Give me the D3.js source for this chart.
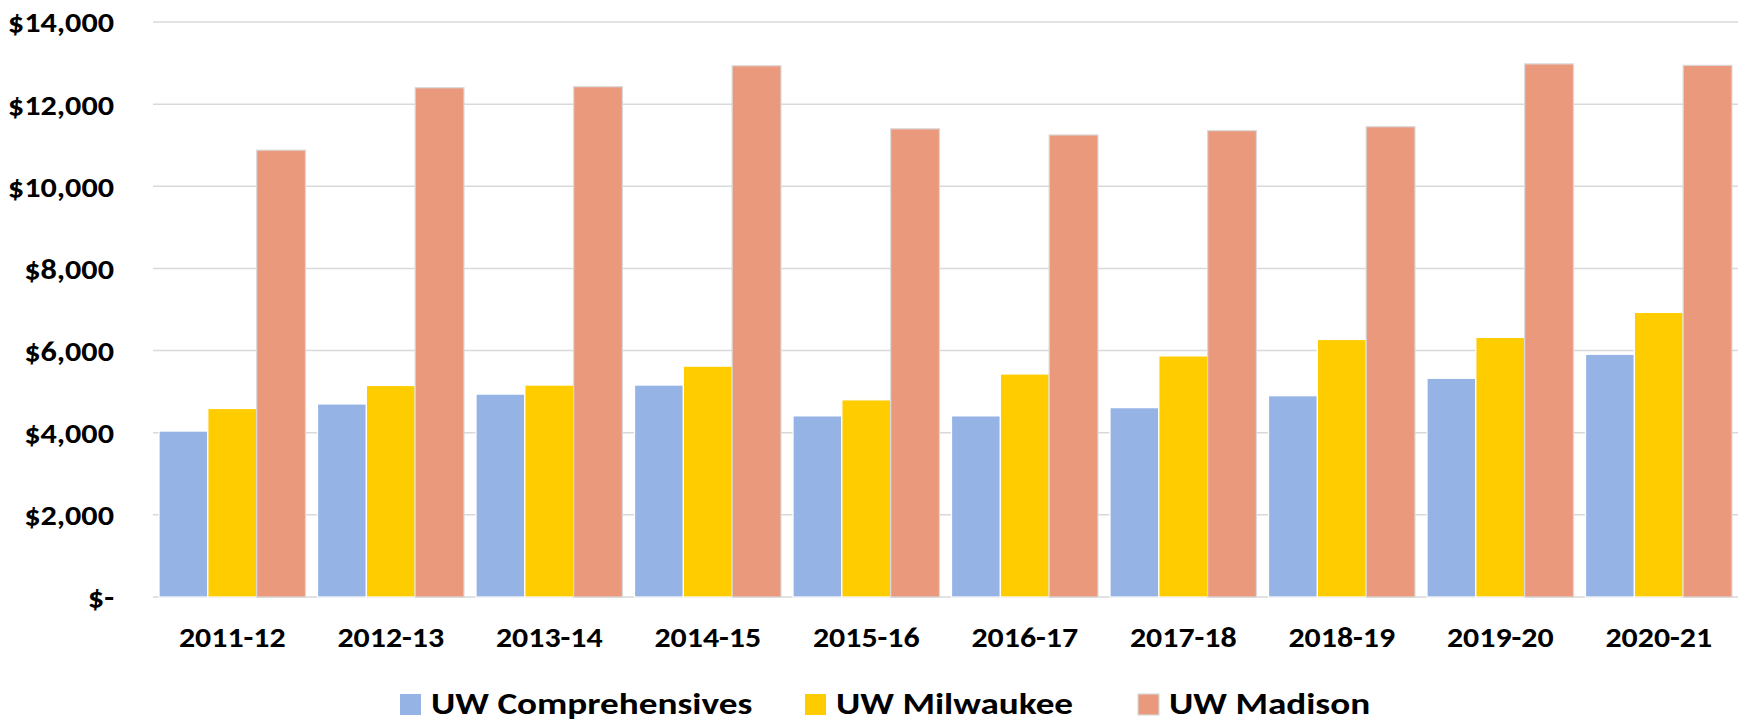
<!DOCTYPE html>
<html>
<head>
<meta charset="utf-8">
<script src="https://cdn.jsdelivr.net/npm/d3@7"></script>
<style>
  body { margin: 0; background: #fff; }
  svg text { font-family: "Carlito", "Lato", sans-serif; font-weight: 900; fill: #000; }
</style>
</head>
<body>
<script>
'use strict'

// categories + series
const years = ['2011-12', '2012-13', '2013-14', '2014-15', '2015-16',
               '2016-17', '2017-18', '2018-19', '2019-20', '2020-21']
const comprehensives = [4040, 4700, 4940, 5160, 4410, 4410, 4610, 4900, 5325, 5910]
const milwaukee      = [4590, 5150, 5160, 5620, 4800, 5430, 5870, 6270, 6320, 6930]
const madison        = [10880, 12400, 12425, 12935, 11400, 11250, 11355, 11450, 12980, 12945]
const yTicks = [0, 2000, 4000, 6000, 8000, 10000, 12000, 14000]

const series = [
    { name: 'UW Comprehensives', values: comprehensives, color: '#95b3e4', stroke: '#ffffff' },
    { name: 'UW Milwaukee', values: milwaukee, color: '#ffcc00', stroke: '#ffffff' },
    { name: 'UW Madison', values: madison, color: '#eb997c', stroke: '#d9d9d9' }
]

const width = 1744, height = 721
const plot = { left: 153, right: 1738, top: 22, bottom: 597 }

const svg = d3.select('body').append('svg')
    .attr('width', width)
    .attr('height', height)

const x = d3.scaleBand()
    .domain(years)
    .range([plot.left, plot.right])
    .paddingInner(0.076)
    .paddingOuter(0.038)

const xInner = d3.scaleBand()
    .domain(series.map(s => s.name))
    .range([0, x.bandwidth()])

const y = d3.scaleLinear()
    .domain([0, 14000])
    .range([plot.bottom, plot.top])

// gridlines (baseline is just the 0 gridline)
svg.append('g')
    .selectAll('line')
    .data(yTicks)
    .enter()
    .append('line')
    .attr('x1', plot.left)
    .attr('x2', plot.right)
    .attr('y1', d => y(d))
    .attr('y2', d => y(d))
    .attr('stroke', '#d9d9d9')
    .attr('stroke-width', 1.5)

// y labels, accounting style: zero shows as "$-"
// text is a bit wider than Lato, so stretch it sideways
svg.append('g')
    .selectAll('text')
    .data(yTicks)
    .enter()
    .append('text')
    .attr('transform', d => `translate(114,${y(d)}) scale(1.11,1)`)
    .attr('dy', '0.36em')
    .attr('text-anchor', 'end')
    .style('font-size', '29px')
    .text(d => d === 0 ? '$-' : '$' + d3.format(',')(d))

// bars
const groups = svg.append('g')
    .selectAll('g')
    .data(series)
    .enter()
    .append('g')
    .attr('fill', s => s.color)
    .attr('stroke', s => s.stroke)
    .attr('stroke-width', 1.2)

groups.selectAll('rect')
    .data(s => s.values.map((v, i) => ({ name: s.name, year: years[i], value: v })))
    .enter()
    .append('rect')
    .attr('x', d => x(d.year) + xInner(d.name))
    .attr('width', xInner.bandwidth())
    .attr('y', d => y(d.value))
    .attr('height', d => y(0) - y(d.value))

// x labels
svg.append('g')
    .selectAll('text')
    .data(years)
    .enter()
    .append('text')
    .attr('transform', d => `translate(${x(d) + x.bandwidth() / 2},647) scale(1.1,1)`)
    .attr('text-anchor', 'middle')
    .style('font-size', '29px')
    .text(d => d)

// legend
const legendX = [400, 805, 1138]
const legend = svg.append('g')
    .selectAll('g')
    .data(series)
    .enter()
    .append('g')
    .attr('transform', (s, i) => `translate(${legendX[i]},0)`)

legend.append('rect')
    .attr('x', 0)
    .attr('y', 694)
    .attr('width', 21)
    .attr('height', 21)
    .attr('fill', s => s.color)
    .attr('stroke', s => s.stroke === '#ffffff' ? 'none' : s.stroke)
    .attr('stroke-width', 1.2)

legend.append('text')
    .attr('transform', 'translate(31,714) scale(1.2,1)')
    .style('font-size', '31px')
    .text(s => s.name)
</script>
</body>
</html>
